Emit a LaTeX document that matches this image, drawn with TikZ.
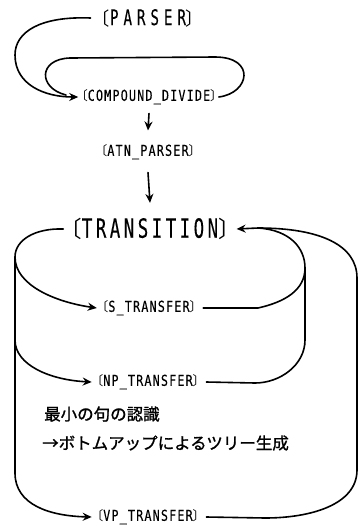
\documentclass[tikz,border=0pt]{standalone}
\usepackage{fontspec}
\usepackage{graphicx}
\usetikzlibrary{arrows.meta}
\newfontfamily\monoA{DejaVu Sans Mono}[FakeStretch=0.66, LetterSpace=13, FakeBold=0.2]
\newfontfamily\monoP{DejaVu Sans Mono}[FakeStretch=0.66, LetterSpace=23, FakeBold=0.2]
\newfontfamily\monoB{DejaVu Sans Mono}[FakeStretch=0.78, LetterSpace=8, FakeBold=0.2]
\newfontfamily\cjk{Noto Sans CJK JP}
\newfontfamily\cjktext{Noto Sans CJK JP}[FakeBold=1.2]
\newcommand\ob{{\cjk\scalebox{0.85}{\kern-0.5em〔}}}
\newcommand\cb{{\cjk\scalebox{0.85}{〕\kern-0.5em}}}
\tikzset{
  lbl/.style={inner sep=0pt},
  big/.style={lbl, font=\monoA\fontsize{26.5}{27}\selectfont},
  small/.style={lbl, font=\monoB\fontsize{15}{16}\selectfont},
  conn/.style={line width=1.6pt, line cap=round, line join=round},
  arr/.style={conn, -{Stealth[length=9pt,width=8pt,inset=3pt]}},
  jp/.style={inner sep=0pt, anchor=west, font=\cjktext\fontsize{16.5}{17}\selectfont},
}
\begin{document}
\begin{tikzpicture}[x=1pt,y=-1pt]
\useasboundingbox (0,0) rectangle (361,528);
% nodes
\node[lbl, font=\monoP\fontsize{21.5}{22}\selectfont] (parser) at (148,18) {\ob PARSER\cb};
\node[small] (compound) at (149,97) {\ob COMPOUND\_DIVIDE\cb};
\node[small] (atn) at (148,152) {\ob ATN\_PARSER\cb};
\node[big] (trans) at (150,229) {\ob TRANSITION\cb};
\node[small] (s) at (149,308) {\ob S\_TRANSFER\cb};
\node[small] (np) at (148,382) {\ob NP\_TRANSFER\cb};
\node[small] (vp) at (148,517) {\ob VP\_TRANSFER\cb};
\node[jp] (jp1) at (44,414) {最小の句の認識};
\node[jp] (jp2) at (42,443) {→ボトムアップによるツリー生成};
% junction coordinates
\coordinate (lt) at (15,257);
\coordinate (lm) at (15,340);
\coordinate (lb) at (15,473);
\coordinate (rj) at (258,228);
% top connectors
\draw[arr] ([xshift=-10pt]parser.west) .. controls (40,16) and (15,32) .. (15,55)
  .. controls (15,85) and (45,97) .. ([xshift=-3pt]compound.west);
\draw[conn] ([xshift=2pt]compound.east) .. controls (250,93) and (256,57) .. (215,57)
  -- (70,58) .. controls (38,59) and (38,88) .. (66,95);
\draw[arr] ([yshift=-9pt]compound.south) -- ([yshift=14pt]atn.north);
\draw[arr] ([yshift=-13pt]atn.south) -- ([yshift=15pt]trans.north);
% left side
\draw[conn] ([xshift=-7pt]trans.west) .. controls (35,228) and (15,240) .. (lt) -- (lb);
\draw[arr] (lt) .. controls (15,285) and (55,302) .. ([xshift=-5pt]s.west);
\draw[arr] (lm) .. controls (15,365) and (50,380) .. ([xshift=-5pt]np.west);
\draw[arr] (lb) .. controls (15,505) and (50,516) .. ([xshift=-5pt]vp.west);
% right side
\draw[arr] (rj) -- ([xshift=7pt]trans.east);
\draw[conn] (rj) .. controls (290,230) and (305,248) .. (305,268) -- (305,340)
  .. controls (305,365) and (280,383) .. (255,383) -- ([xshift=7pt]np.east);
\draw[conn] ([xshift=7pt]s.east) -- (258,308) .. controls (285,302) and (305,290) .. (305,268);
\draw[conn] (rj) .. controls (320,228) and (357,245) .. (357,278) -- (357,470)
  .. controls (357,505) and (310,518) .. (265,518) -- ([xshift=7pt]vp.east);
\end{tikzpicture}
\end{document}
